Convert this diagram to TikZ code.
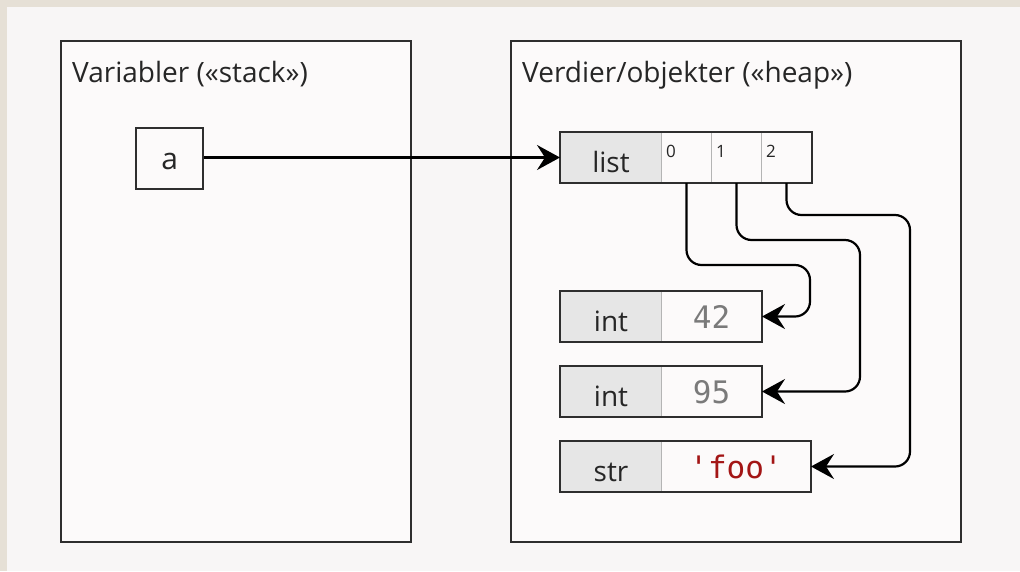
\documentclass[tikz,border=0pt]{standalone}
\usepackage{fontspec}
\setmainfont{Open Sans}
\newfontfamily\codefont{DejaVu Sans Mono}
\usetikzlibrary{arrows.meta}
\definecolor{beige}{HTML}{E6E0D6}
\definecolor{bgc}{HTML}{F8F6F6}
\definecolor{panelc}{HTML}{FCFAFA}
\definecolor{typegray}{HTML}{E6E6E6}
\definecolor{linec}{HTML}{2E2E2E}
\definecolor{sepc}{HTML}{B4B4B4}
\definecolor{numc}{HTML}{7A7A7A}
\definecolor{strc}{HTML}{A31515}
\begin{document}
\begin{tikzpicture}[x=1pt,y=-1pt,
  panel/.style={draw=linec, line width=2.3pt, fill=panelc, anchor=north west, inner sep=0pt},
  title/.style={anchor=base west, inner sep=0pt, font=\fontsize{28}{32}\selectfont, text=black!85},
  typecell/.style={draw=sepc, line width=1pt, fill=typegray, anchor=north west, inner sep=0pt,
    minimum width=101pt, minimum height=50pt, text height=30pt, text depth=0pt,
    font=\fontsize{28}{32}\selectfont, text=black!85},
  idxcell/.style={draw=sepc, line width=1pt, fill=panelc, anchor=north west, inner sep=0pt,
    minimum width=50pt, minimum height=50pt},
  idxlabel/.style={anchor=base west, inner sep=0pt, font=\fontsize{17}{19}\selectfont, text=black!85},
  valcell/.style={draw=sepc, line width=1pt, fill=panelc, anchor=north west, inner sep=0pt,
    minimum height=50pt, text height=24pt, text depth=0pt,
    font=\codefont\fontsize{31}{35}\selectfont},
  objborder/.style={draw=linec, line width=2.3pt},
  varbox/.style={draw=linec, line width=2.3pt, fill=panelc, anchor=north west, inner sep=0pt,
    minimum width=67pt, minimum height=61pt, text height=21pt, text depth=0pt,
    font=\fontsize{30}{34}\selectfont, text=black!85},
  arr/.style={draw=black, line width=2.2pt, rounded corners=15pt,
    -{Stealth[length=23pt,width=25pt,inset=8pt]}}
]
\fill[beige] (0,0) rectangle (1020,571);
\fill[bgc] (7,7) rectangle (1020,571);
\useasboundingbox (0,0) rectangle (1020,571);

% panels
\node[panel, minimum width=350pt, minimum height=501pt] (stack) at (60,40) {};
\node[panel, minimum width=450pt, minimum height=501pt] (heap) at (510,40) {};
\node[title] (stacktitle) at (72,82) {Variabler («stack»)};
\node[title] (heaptitle) at (522,82) {Verdier/objekter («heap»)};

% variable
\node[varbox] (a) at (135,127) {a};

% list object
\node[typecell] (ltype) at (560,132) {list};
\node[idxcell] (l0) at (661,132) {};
\node[idxcell] (l1) at (711,132) {};
\node[idxcell] (l2) at (761,132) {};
\node[idxlabel] (i0) at (666,157) {0};
\node[idxlabel] (i1) at (716,157) {1};
\node[idxlabel] (i2) at (766,157) {2};
\draw[objborder] (ltype.north west) rectangle (l2.south east);

% int 42
\node[typecell] (t42) at (560,291) {int};
\node[valcell, minimum width=100pt, text=numc] (v42) at (661,291) {42};
\draw[objborder] (t42.north west) rectangle (v42.south east);

% int 95
\node[typecell] (t95) at (560,366) {int};
\node[valcell, minimum width=100pt, text=numc] (v95) at (661,366) {95};
\draw[objborder] (t95.north west) rectangle (v95.south east);

% str foo
\node[typecell] (tfoo) at (560,441) {str};
\node[valcell, minimum width=149pt, text=strc] (vfoo) at (661,441) {'foo'};
\draw[objborder] (tfoo.north west) rectangle (vfoo.south east);

% connectors
\draw[arr] (a.east |- ltype.west) -- (ltype.west);
\coordinate (b0) at (810,265);
\coordinate (b1) at (860,240);
\coordinate (b2) at (910,215);
\draw[arr] (l0.south) |- (b0) |- (v42.east);
\draw[arr] (l1.south) |- (b1) |- (v95.east);
\draw[arr] (l2.south) |- (b2) |- (vfoo.east);
\end{tikzpicture}
\end{document}
